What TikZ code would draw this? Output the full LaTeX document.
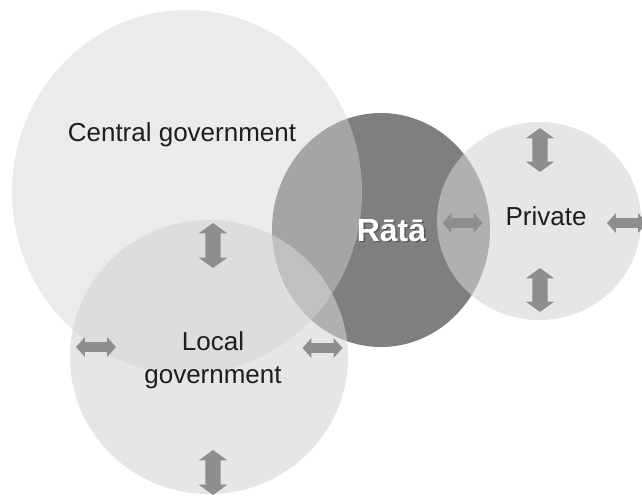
\documentclass[tikz,border=0pt]{standalone}
\usepackage{fontspec}
\setmainfont{Liberation Sans}
\usetikzlibrary{shapes.geometric,shapes.arrows}

\definecolor{ringfill}{RGB}{212,212,212}
\definecolor{coreshade}{RGB}{127,127,127}
\definecolor{arrowgray}{RGB}{142,142,142}
\definecolor{labelink}{RGB}{30,30,30}
\definecolor{coreshadow}{RGB}{85,85,85}

% white lettering with a soft dark offset copy behind it
\newcommand{\shadowedword}[1]{%
  \rlap{\kern1.5pt\raisebox{-1.5pt}{\color{coreshadow}#1}}#1}

\tikzset{
  ring/.style={ellipse, fill=ringfill, draw=none, inner sep=0pt},
  flowv/.style={double arrow, fill=arrowgray, draw=none, inner xsep=0pt,
    inner ysep=7.5pt, double arrow head extend=6.5pt,
    double arrow tip angle=108, minimum height=45pt, rotate=90},
  flowh/.style={double arrow, fill=arrowgray, draw=none, inner xsep=0pt,
    inner ysep=4.75pt, double arrow head extend=5pt,
    double arrow tip angle=96, minimum height=40pt},
  areatext/.style={text=labelink, font=\fontsize{26}{33}\selectfont,
    align=center, inner sep=0pt},
  coretext/.style={font=\fontsize{32}{38}\selectfont\bfseries, inner sep=0pt},
}

\begin{document}
\begin{tikzpicture}[x=1pt,y=-1pt]
  \clip (0,0) rectangle (642,495);
  \fill[white] (0,0) rectangle (642,495);

  % the core circle lies underneath the three translucent circles
  \node[ellipse, fill=coreshade, inner sep=0pt,
        minimum width=218pt, minimum height=234pt] (rata) at (381,230) {};
  \node[ring, fill opacity=.45, minimum width=350pt, minimum height=364pt]
        (central) at (187,192) {};
  \node[ring, fill opacity=.58, minimum width=278pt, minimum height=274pt]
        (local) at (209,357) {};
  \node[ring, fill opacity=.58, minimum width=204pt, minimum height=198pt]
        (private) at (539,221) {};

  % two-way exchange arrows
  \node[flowv] (lgup)    at (213,245.5) {};
  \node[flowv] (lgdown)  at (213,472.5) {};
  \node[flowh] (lgleft)  at (96,347) {};
  \node[flowh] (lgright) at (322.5,348) {};
  \node[flowv, minimum height=44pt] (pvup)   at (540,150) {};
  \node[flowv, minimum height=44pt] (pvdown) at (540,290) {};
  \node[flowh] (rtpv)    at (462.5,223) {};
  \node[flowh] (pvright) at (627,223) {};

  % labels
  \node[areatext, anchor=base] (centraltxt) at (182,141) {Central government};
  \node[areatext, anchor=base] (privatetxt) at (546,225) {Private};
  \node[areatext] (localtxt) at (213,360) {Local\\government};
  \node[coretext, anchor=base, text=white] (ratatxt) at (391.5,241)
        {\shadowedword{Rātā}};
\end{tikzpicture}
\end{document}
